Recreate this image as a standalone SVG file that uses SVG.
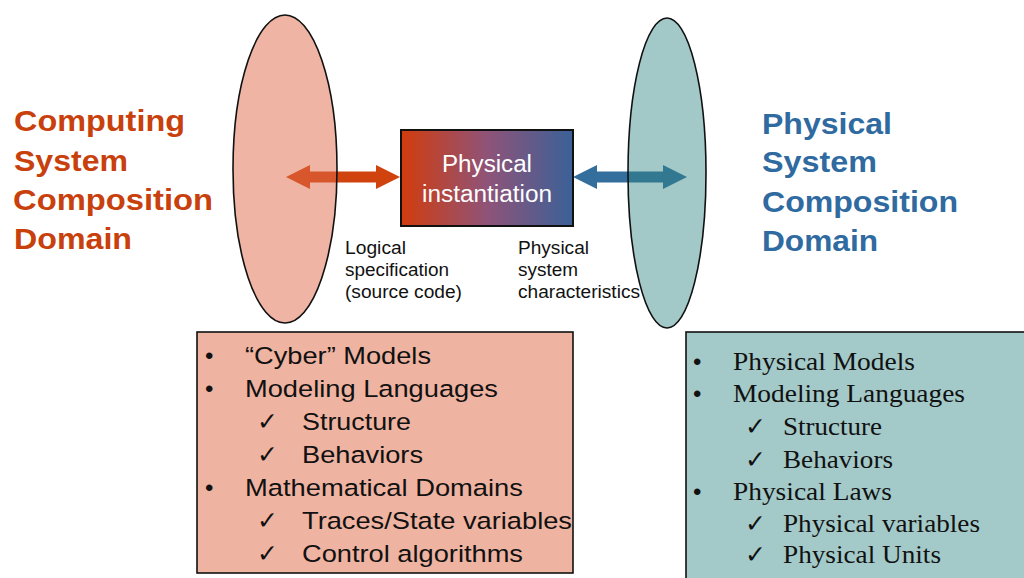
<svg xmlns="http://www.w3.org/2000/svg" width="1024" height="578" viewBox="0 0 1024 578">
  <defs>
    <linearGradient id="instGrad" x1="0" y1="0" x2="1" y2="0">
      <stop offset="0" stop-color="#d23c0c"/>
      <stop offset="0.5" stop-color="#8f5378"/>
      <stop offset="1" stop-color="#3a6198"/>
    </linearGradient>
    <style>
      .title { font-family: "Liberation Sans", Arial, sans-serif; font-weight: bold; font-size: 30px; }
      .cyberTitle { fill: #c8400c; }
      .physTitle { fill: #2f6aa0; }
      .label { font-family: "Liberation Sans", Arial, sans-serif; font-size: 17.5px; fill: #111; }
      .sans { font-family: "Liberation Sans", Arial, sans-serif; font-size: 24.5px; fill: #111; }
      .serif { font-family: "Liberation Serif", "Times New Roman", serif; font-size: 25.5px; fill: #111; }
      .mark { font-family: "DejaVu Sans", sans-serif; font-size: 25px; fill: #111; }
      .dot { font-family: "Liberation Sans", Arial, sans-serif; font-size: 24px; fill: #111; }
      .outline { stroke: #111; stroke-width: 1.6; }
    </style>
  </defs>

  <rect width="1024" height="578" fill="#ffffff"/>

  <!-- double-headed arrows between the domains and the instantiation box -->
  <g id="connectors">
    <polygon fill="#d0420e" points="286,177 310,165 310,171.5 376,171.5 376,165 400,177 376,189 376,182.5 310,182.5 310,189"/>
    <polygon fill="#336e9c" points="573,177 597,165 597,171.5 663,171.5 663,165 687,177 663,189 663,182.5 597,182.5 597,189"/>
  </g>

  <!-- computing domain ellipse -->
  <g id="cyber-domain">
    <ellipse cx="285" cy="169" rx="52" ry="154" fill="#e06a48" fill-opacity="0.5" class="outline"/>
  </g>

  <!-- physical domain ellipse -->
  <g id="physical-domain">
    <ellipse cx="667" cy="173" rx="39" ry="155" fill="#308585" fill-opacity="0.45" class="outline"/>
  </g>

  <!-- central instantiation box -->
  <g id="instantiation">
    <rect x="401" y="130" width="172" height="96" fill="url(#instGrad)" stroke="#111" stroke-width="2"/>
    <text x="442" y="172" font-family="Liberation Sans, Arial, sans-serif" font-size="23" fill="#ffffff" textLength="90" lengthAdjust="spacingAndGlyphs">Physical</text>
    <text x="422" y="202" font-family="Liberation Sans, Arial, sans-serif" font-size="23" fill="#ffffff" textLength="130" lengthAdjust="spacingAndGlyphs">instantiation</text>
  </g>

  <!-- domain titles -->
  <g id="cyber-title" class="title cyberTitle">
    <text x="14" y="131" textLength="171" lengthAdjust="spacingAndGlyphs">Computing</text>
    <text x="14" y="171" textLength="114" lengthAdjust="spacingAndGlyphs">System</text>
    <text x="13" y="210" textLength="200" lengthAdjust="spacingAndGlyphs">Composition</text>
    <text x="14" y="249" textLength="118" lengthAdjust="spacingAndGlyphs">Domain</text>
  </g>
  <g id="physical-title" class="title physTitle">
    <text x="762" y="134" textLength="130" lengthAdjust="spacingAndGlyphs">Physical</text>
    <text x="762" y="172" textLength="115" lengthAdjust="spacingAndGlyphs">System</text>
    <text x="762" y="212" textLength="196" lengthAdjust="spacingAndGlyphs">Composition</text>
    <text x="762" y="251" textLength="116" lengthAdjust="spacingAndGlyphs">Domain</text>
  </g>

  <!-- arrow captions -->
  <g id="logical-label" class="label">
    <text x="345" y="254" textLength="61" lengthAdjust="spacingAndGlyphs">Logical</text>
    <text x="345" y="276" textLength="104" lengthAdjust="spacingAndGlyphs">specification</text>
    <text x="345" y="298" textLength="117" lengthAdjust="spacingAndGlyphs">(source code)</text>
  </g>
  <g id="physical-label" class="label">
    <text x="518" y="254" textLength="71" lengthAdjust="spacingAndGlyphs">Physical</text>
    <text x="518" y="276" textLength="60" lengthAdjust="spacingAndGlyphs">system</text>
    <text x="518" y="298" textLength="122" lengthAdjust="spacingAndGlyphs">characteristics</text>
  </g>

  <!-- computing domain contents -->
  <g id="cyber-list">
    <rect x="197" y="332" width="376" height="241" fill="#efb3a1" class="outline"/>
    <text class="dot" x="205" y="364">•</text>
    <text class="dot" x="205" y="397">•</text>
    <text class="dot" x="205" y="496">•</text>
    <text class="mark" x="257" y="430">✓</text>
    <text class="mark" x="257" y="463">✓</text>
    <text class="mark" x="257" y="529">✓</text>
    <text class="mark" x="257" y="562">✓</text>
    <text class="sans" x="245" y="364" textLength="186" lengthAdjust="spacingAndGlyphs">“Cyber” Models</text>
    <text class="sans" x="245" y="397" textLength="253" lengthAdjust="spacingAndGlyphs">Modeling Languages</text>
    <text class="sans" x="302" y="430" textLength="109" lengthAdjust="spacingAndGlyphs">Structure</text>
    <text class="sans" x="302" y="463" textLength="121" lengthAdjust="spacingAndGlyphs">Behaviors</text>
    <text class="sans" x="245" y="496" textLength="278" lengthAdjust="spacingAndGlyphs">Mathematical Domains</text>
    <text class="sans" x="302" y="529" textLength="270" lengthAdjust="spacingAndGlyphs">Traces/State variables</text>
    <text class="sans" x="302" y="562" textLength="221" lengthAdjust="spacingAndGlyphs">Control algorithms</text>
  </g>

  <!-- physical domain contents -->
  <g id="physical-list">
    <rect x="686" y="332" width="345" height="252" fill="#a3c9c9" class="outline"/>
    <text class="dot" x="693" y="370">•</text>
    <text class="dot" x="693" y="402">•</text>
    <text class="dot" x="693" y="500">•</text>
    <text class="mark" x="745" y="435">✓</text>
    <text class="mark" x="745" y="468">✓</text>
    <text class="mark" x="745" y="532">✓</text>
    <text class="mark" x="745" y="563">✓</text>
    <text class="serif" x="733" y="370" textLength="182" lengthAdjust="spacingAndGlyphs">Physical Models</text>
    <text class="serif" x="733" y="402" textLength="232" lengthAdjust="spacingAndGlyphs">Modeling Languages</text>
    <text class="serif" x="783" y="435" textLength="99" lengthAdjust="spacingAndGlyphs">Structure</text>
    <text class="serif" x="783" y="468" textLength="110" lengthAdjust="spacingAndGlyphs">Behaviors</text>
    <text class="serif" x="733" y="500" textLength="159" lengthAdjust="spacingAndGlyphs">Physical Laws</text>
    <text class="serif" x="783" y="532" textLength="197" lengthAdjust="spacingAndGlyphs">Physical variables</text>
    <text class="serif" x="783" y="563" textLength="158" lengthAdjust="spacingAndGlyphs">Physical Units</text>
  </g>
</svg>
